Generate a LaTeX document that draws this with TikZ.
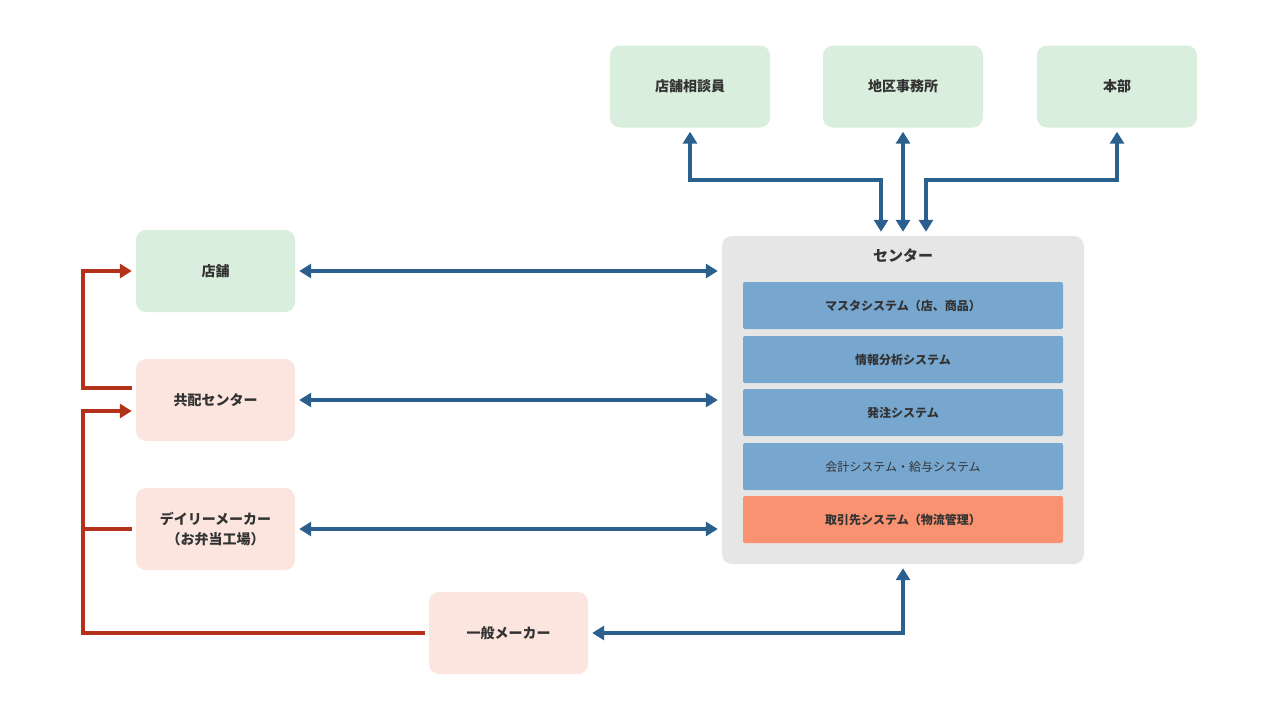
\documentclass[tikz,border=0pt]{standalone}
\usepackage{fontspec}
\setmainfont{Noto Sans CJK JP}
\usetikzlibrary{arrows.meta}
\definecolor{gfill}{HTML}{D9EEDC}
\definecolor{pfill}{HTML}{FCE5DE}
\definecolor{cfill}{HTML}{E6E6E6}
\definecolor{bbar}{HTML}{77A7CF}
\definecolor{obar}{HTML}{F99270}
\definecolor{txt}{HTML}{333333}
\definecolor{bline}{HTML}{2B5F8E}
\definecolor{rline}{HTML}{B5321A}
\tikzset{
  boxbase/.style={rounded corners=10pt, minimum width=160pt, minimum height=82pt, inner sep=0pt, align=center, text=txt, font=\fontsize{14pt}{20pt}\selectfont\bfseries},
  greenbox/.style={boxbase, fill=gfill},
  pinkbox/.style={boxbase, fill=pfill},
  barbox/.style={rounded corners=2pt, minimum width=320pt, minimum height=47pt, inner sep=0pt, text=txt, font=\fontsize{12pt}{14pt}\selectfont},
  bluearrow/.style={draw=bline, line width=3.5pt, {Triangle[length=12pt,width=14pt]}-{Triangle[length=12pt,width=14pt]}, shorten <=4pt, shorten >=4pt},
  redline/.style={draw=rline, line width=3.5pt, shorten <=4pt},
  redarrow/.style={redline, -{Triangle[length=12pt,width=14pt]}, shorten >=4pt},
}
\begin{document}
\begin{tikzpicture}[x=1pt,y=-1pt]
\useasboundingbox (0,0) rectangle (1280,720);
\fill[white] (0,0) rectangle (1280,720);
% top boxes
\node[greenbox] (sodan) at (690,86.5) {店舗相談員};
\node[greenbox] (chiku) at (903,86.5) {地区事務所};
\node[greenbox] (honbu) at (1117,86.5) {本部};
% center
\node[fill=cfill, rounded corners=10pt, minimum width=362pt, minimum height=328pt, inner sep=0pt] (center) at (903,400) {};
\node[text=txt, font=\fontsize{15pt}{18pt}\selectfont\bfseries] (ctitle) at (903,256) {センター};
\node[barbox, fill=bbar, font=\fontsize{12pt}{14pt}\selectfont\bfseries] (b1) at (903,305.5) {マスタシステム（店、商品）};
\node[barbox, fill=bbar, font=\fontsize{12pt}{14pt}\selectfont\bfseries] (b2) at (903,359.5) {情報分析システム};
\node[barbox, fill=bbar, font=\fontsize{12pt}{14pt}\selectfont\bfseries] (b3) at (903,412.5) {発注システム};
\node[barbox, fill=bbar] (b4) at (903,466.5) {会計システム・給与システム};
\node[barbox, fill=obar, font=\fontsize{12pt}{14pt}\selectfont\bfseries] (b5) at (903,519.5) {取引先システム（物流管理）};
% left boxes
\node[greenbox, minimum width=159pt] (tenpo) at (215.5,271) {店舗};
\node[pinkbox, minimum width=159pt] (kyohai) at (215.5,400) {共配センター};
\node[pinkbox, minimum width=159pt] (daily) at (215.5,529) {デイリーメーカー\\（お弁当工場）};
\node[pinkbox, minimum width=159pt] (ippan) at (508.5,633) {一般メーカー};
% helper coordinates
\coordinate (c1) at ([xshift=-22pt]center.north);
\coordinate (c3) at ([xshift=23pt]center.north);
\coordinate (bus) at (83,0);
\coordinate (ktop) at ([yshift=12pt]kyohai.west);
\coordinate (kbot) at ([yshift=-11pt]kyohai.west);
% blue arrows top
\draw[bluearrow] (sodan.south) -- (sodan.south |- 0,180) -| (c1);
\draw[bluearrow] (chiku.south) -- (center.north);
\draw[bluearrow] (honbu.south) -- (honbu.south |- 0,180) -| (c3);
% blue arrows left
\draw[bluearrow] (tenpo.east) -- (tenpo.east -| center.west);
\draw[bluearrow] (kyohai.east) -- (kyohai.east -| center.west);
\draw[bluearrow] (daily.east) -- (daily.east -| center.west);
\draw[bluearrow] (ippan.east) -- (ippan.east -| center.south) -- (center.south);
% red connectors
\draw[redarrow] (ktop) -- (ktop -| bus) -- (tenpo.west -| bus) -- (tenpo.west);
\draw[redarrow] (ippan.west) -- (ippan.west -| bus) -- (kbot -| bus) -- (kbot);
\draw[redline] (daily.west) -- (daily.west -| bus);
\end{tikzpicture}
\end{document}
